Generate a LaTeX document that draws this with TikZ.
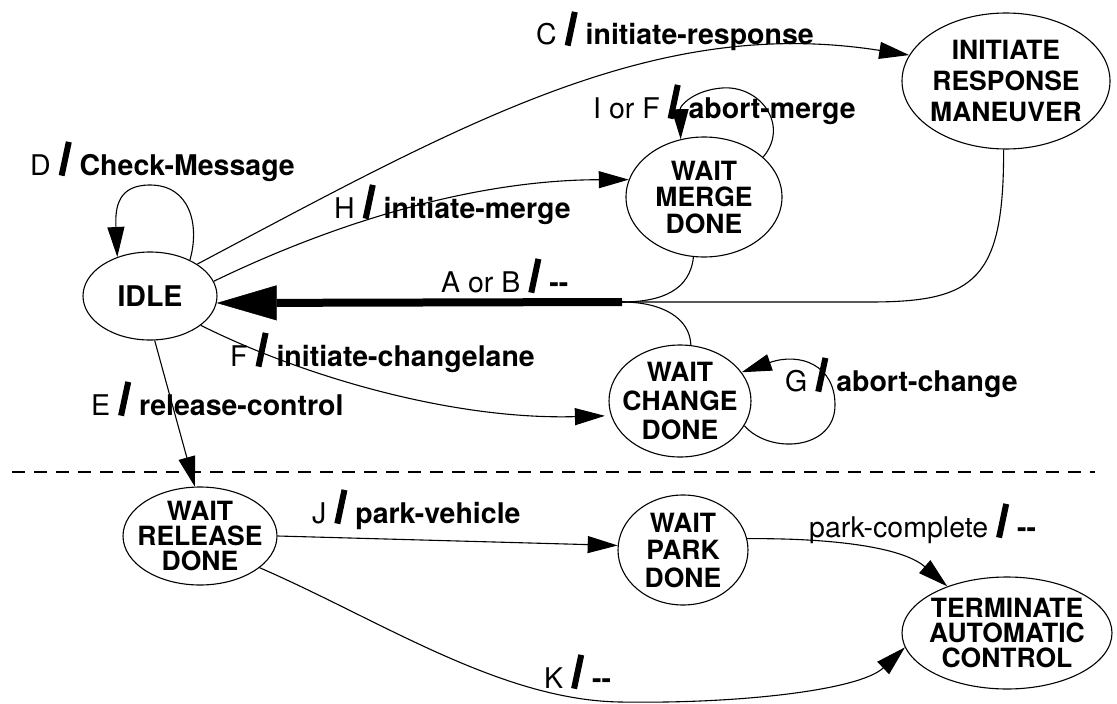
\documentclass[tikz,border=0pt]{standalone}
\usepackage{fontspec}
\setmainfont{TeX Gyre Heros}
\usepackage{graphicx}
\usetikzlibrary{shapes.geometric,arrows.meta}

% heavy slash separating the event from the action
\newcommand\slsh{\rotatebox{-12}{\rule{6pt}{34.5pt}}}
% state text: bold, with the line spacing given as argument
\newcommand\nfont[1]{\fontsize{26.5}{#1}\selectfont\bfseries}
% transition labels
\newcommand\lfont{\fontsize{28.5}{30}\selectfont}

\begin{document}
\begin{tikzpicture}[x=1pt,y=-1pt,
  state/.style={ellipse,draw,line width=1.1pt,inner sep=-30pt,align=center},
  trans/.style={line width=1.1pt,-{Triangle[length=30pt,width=17pt]}},
  link/.style={line width=1.1pt},
  mainarrow/.style={line width=8pt,-{Triangle[length=60pt,width=35pt,line width=0.5pt]}},
  lbl/.style={anchor=base west,inner sep=0pt,font=\lfont},
  separator/.style={line width=1.1pt,dash pattern=on 13pt off 9pt}]

\useasboundingbox (0,0) rectangle (1117,704);

% states
\node[state,minimum width=134pt,minimum height=88pt,font={\fontsize{28.5}{30}\selectfont\bfseries}] (idle) at (150,296) {IDLE};
\node[state,minimum width=156pt,minimum height=120pt,font=\nfont{26.5}] (merge) at (704,197) {WAIT\\MERGE\\DONE};
\node[state,minimum width=208pt,minimum height=136pt,font=\nfont{31}] (init) at (1006,81) {INITIATE\\RESPONSE\\MANEUVER};
\node[state,minimum width=142pt,minimum height=112pt,font=\nfont{29}] (change) at (680,401) {WAIT\\CHANGE\\DONE};
\node[state,minimum width=154pt,minimum height=98pt,font=\nfont{25}] (rel) at (200,536) {WAIT\\RELEASE\\DONE};
\node[state,minimum width=130pt,minimum height=110pt,font=\nfont{27.5}] (park) at (683,550) {WAIT\\PARK\\DONE};
\node[state,minimum width=210pt,minimum height=112pt,font=\nfont{25}] (term) at (1007,633) {TERMINATE\\AUTOMATIC\\CONTROL};

% separator between normal operation and hand-over
\draw[separator] (12,472) -- (1095,472);

% A or B: three states join and return to IDLE
\coordinate (jn) at (622,302);
\draw[link] (merge.-100) .. controls (690,290) and (662,302) .. (jn);
\draw[link] (init.-92) .. controls (1004,280) and (975,302) .. (870,302) -- (jn);
\draw[link] (change.79) .. controls (690,318) and (662,302) .. (jn);
\draw[mainarrow] (jn) -- (idle.-6);

% transitions out of IDLE
\draw[trans] (idle.42) .. controls (200,225) and (190,185) .. (150,185)
             .. controls (118,185) and (115,207) .. (idle.130);
\draw[trans] (idle.34) .. controls (465,122) and (655,15) .. (init.165);
\draw[trans] (idle.13) .. controls (330,225) and (470,180) .. (merge.167);
\draw[trans,shorten >=6pt] (idle.-30) .. controls (300,375) and (450,420) .. (change.192);
\draw[trans] (idle.-84) -- (rel.96);

% self loops
\draw[trans] (merge.34) .. controls (790,125) and (760,85) .. (722,88)
             .. controls (695,90) and (680,105) .. (merge.112);
\draw[trans] (change.-21) .. controls (770,455) and (835,450) .. (835,405)
             .. controls (835,365) and (800,352) .. (change.25);

% lower part
\draw[trans] (rel.0) -- (park.176);
\draw[trans] (park.10) .. controls (820,538) and (900,545) .. (term.142);
\draw[trans] (rel.-28) .. controls (380,620) and (500,700) .. (620,702)
             .. controls (740,704) and (860,690) .. (term.188);

% labels
\node[lbl] (lD) at (30,175) {D \slsh{} \textbf{Check-Message}};
\node[lbl] (lC) at (536,45) {C \slsh{} \textbf{initiate-response}};
\node[lbl] (lH) at (334,218) {H \slsh{} \textbf{initiate-merge}};
\node[lbl] (lI) at (593,118) {I or F \slsh{} \textbf{abort-merge}};
\node[lbl] (lA) at (441,292) {A or B \slsh{} \textbf{-{}-}};
\node[lbl] (lF) at (230,366) {F \slsh{} \textbf{initiate-changelane}};
\node[lbl] (lE) at (91,415) {E \slsh{} \textbf{release-control}};
\node[lbl] (lG) at (785,391) {G \slsh{} \textbf{abort-change}};
\node[lbl] (lJ) at (312,523) {J \slsh{} \textbf{park-vehicle}};
\node[lbl] (lP) at (809,537) {park-complete \slsh{} \textbf{-{}-}};
\node[lbl] (lK) at (544,688) {K \slsh{} \textbf{-{}-}};
\end{tikzpicture}
\end{document}
